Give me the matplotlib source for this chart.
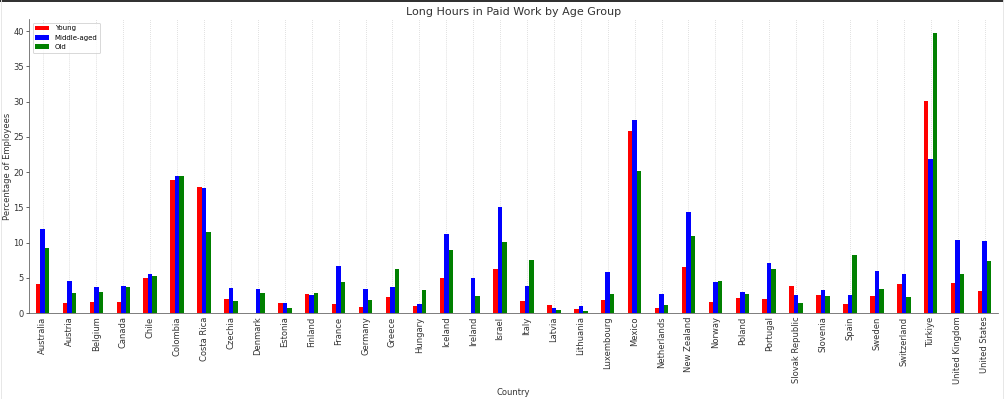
import pandas as pd
import matplotlib
matplotlib.use("Agg")
import matplotlib.pyplot as plt
from matplotlib.lines import Line2D

countries = ["Australia", "Austria", "Belgium", "Canada", "Chile", "Colombia", "Costa Rica",
             "Czechia", "Denmark", "Estonia", "Finland", "France", "Germany", "Greece",
             "Hungary", "Iceland", "Ireland", "Israel", "Italy", "Latvia", "Lithuania",
             "Luxembourg", "Mexico", "Netherlands", "New Zealand", "Norway", "Poland",
             "Portugal", "Slovak Republic", "Slovenia", "Spain", "Sweden", "Switzerland",
             "Türkiye", "United Kingdom", "United States"]

young = [4.1, 1.4, 1.6, 1.65, 4.95, 18.9, 17.9, 2.0, 0.0, 1.4, 2.7, 1.3, 0.9, 2.35,
         1.0, 5.05, 0.0, 6.2, 1.7, 1.2, 0.6, 1.85, 25.8, 0.75, 6.55, 1.6, 2.1,
         1.95, 3.9, 2.6, 1.3, 2.5, 4.2, 30.1, 4.3, 3.15]
middle = [12.0, 4.5, 3.7, 3.9, 5.5, 19.5, 17.7, 3.6, 3.5, 1.5, 2.65, 6.65, 3.5, 3.7,
          1.3, 11.3, 5.05, 15.1, 3.9, 0.7, 1.05, 5.8, 27.4, 2.7, 14.3, 4.4, 3.0,
          7.1, 2.55, 3.3, 2.65, 6.0, 5.5, 21.8, 10.4, 10.3]
old = [9.2, 2.9, 3.0, 3.7, 5.3, 19.4, 11.5, 1.7, 2.9, 0.8, 2.9, 4.4, 1.9, 6.3,
       3.3, 8.9, 2.5, 10.1, 7.5, 0.5, 0.25, 2.7, 20.2, 1.2, 11.0, 4.5, 2.7,
       6.3, 1.45, 2.5, 8.25, 3.5, 2.25, 39.7, 5.5, 7.4]

df = pd.DataFrame({"Young": young, "Middle-aged": middle, "Old": old}, index=countries)

DPI = 200 / 3
fig, ax = plt.subplots(figsize=(1004 / DPI, 399 / DPI), dpi=DPI)
df.plot(kind="bar", ax=ax, color=["red", "blue", "green"], width=0.5)

ax.set_title("Long Hours in Paid Work by Age Group", fontsize=12, color="#333333", pad=5)
ax.set_xlabel("Country", color="#333333", fontsize=9)
ax.set_ylabel("Percentage of Employees", color="#333333", fontsize=9, labelpad=1)
ax.grid(axis="x", linestyle=":", color="#cccccc")
ax.set_axisbelow(True)
ax.spines["top"].set_visible(False)
ax.spines["right"].set_visible(False)
ax.spines["left"].set_color("#555555")
ax.spines["bottom"].set_color("#555555")
ax.tick_params(colors="#333333", labelsize=9)
ax.tick_params(axis="y", pad=2)
ax.tick_params(axis="x", length=0)
ax.legend(loc="upper left", fontsize=7.5)

fig.subplots_adjust(left=0.029, right=0.994, bottom=0.215, top=0.952)

# frame of the screenshot: dark top edge, light sides
fig.add_artist(Line2D([0, 1], [0.998, 0.998], transform=fig.transFigure, color="#222222", linewidth=2))
fig.add_artist(Line2D([0.001, 0.001], [0, 1], transform=fig.transFigure, color="#e6e6e6", linewidth=1))
fig.add_artist(Line2D([0.999, 0.999], [0, 1], transform=fig.transFigure, color="#e6e6e6", linewidth=1))
plt.savefig("out.png", dpi=DPI)
